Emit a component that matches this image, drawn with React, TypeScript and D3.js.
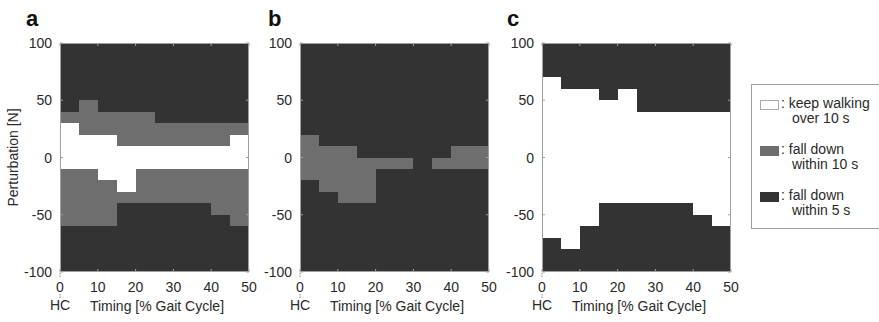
import React, { useEffect, useRef } from "react";
import * as d3 from "d3";

// each column = 5% gait cycle; edges go top -> bottom, states: w = keep walking, g = fall < 10 s, d = fall < 5 s
const timing = [0, 5, 10, 15, 20, 25, 30, 35, 40, 45];

const panelA = [
  { edges: [100, 40, 30, -10, -60, -100], states: "dgwgd" },
  { edges: [100, 50, 20, -10, -60, -100], states: "dgwgd" },
  { edges: [100, 40, 20, -20, -60, -100], states: "dgwgd" },
  { edges: [100, 40, 10, -30, -40, -100], states: "dgwgd" },
  { edges: [100, 40, 10, -10, -40, -100], states: "dgwgd" },
  { edges: [100, 30, 10, -10, -40, -100], states: "dgwgd" },
  { edges: [100, 30, 10, -10, -40, -100], states: "dgwgd" },
  { edges: [100, 30, 10, -10, -40, -100], states: "dgwgd" },
  { edges: [100, 30, 10, -10, -50, -100], states: "dgwgd" },
  { edges: [100, 30, 20, -10, -60, -100], states: "dgwgd" },
];

const panelB = [
  { edges: [100, 20, -20, -100], states: "dgd" },
  { edges: [100, 10, -30, -100], states: "dgd" },
  { edges: [100, 10, -40, -100], states: "dgd" },
  { edges: [100, 0, -40, -100], states: "dgd" },
  { edges: [100, 0, -10, -100], states: "dgd" },
  { edges: [100, 0, -10, -100], states: "dgd" },
  { edges: [100, -100], states: "d" },
  { edges: [100, 0, -10, -100], states: "dgd" },
  { edges: [100, 10, -10, -100], states: "dgd" },
  { edges: [100, 10, -10, -100], states: "dgd" },
];

const panelC = [
  { edges: [100, 70, -70, -100], states: "dwd" },
  { edges: [100, 60, -80, -100], states: "dwd" },
  { edges: [100, 60, -60, -100], states: "dwd" },
  { edges: [100, 50, -40, -100], states: "dwd" },
  { edges: [100, 60, -40, -100], states: "dwd" },
  { edges: [100, 40, -40, -100], states: "dwd" },
  { edges: [100, 40, -40, -100], states: "dwd" },
  { edges: [100, 40, -40, -100], states: "dwd" },
  { edges: [100, 40, -50, -100], states: "dwd" },
  { edges: [100, 40, -60, -100], states: "dwd" },
];

const xTicks = [0, 10, 20, 30, 40, 50];
const yTicks = [-100, -50, 0, 50, 100];
const legendItems = [
  { state: "w", lines: ["keep walking", "over 10 s"] },
  { state: "g", lines: ["fall down", "within 10 s"] },
  { state: "d", lines: ["fall down", "within 5 s"] },
];

const colors: Record<string, string> = { w: "#ffffff", g: "#6e6e6e", d: "#333333" };
const textColor = "#2a2a2a";
const font = "'Liberation Sans', Arial, sans-serif";

const App = () => {
  const ref = useRef<SVGSVGElement>(null);

  useEffect(() => {
    const svg = d3.select(ref.current);
    svg.selectAll("*").remove();

    const top = 43;
    const bottom = 272;
    const panels = [
      { label: "a", data: panelA, left: 60, labelX: 26, yTitle: true },
      { label: "b", data: panelB, left: 300, labelX: 268, yTitle: false },
      { label: "c", data: panelC, left: 542, labelX: 507, yTitle: false },
    ];
    const w = 189;

    const y = d3.scaleLinear().domain([-100, 100]).range([bottom, top]);

    panels.forEach((p) => {
      const x = d3.scaleLinear().domain([0, 50]).range([p.left, p.left + w]);
      const g = svg.append("g");
      const cells = g.append("g").attr("shape-rendering", "crispEdges");

      p.data.forEach((col, i) => {
        const x0 = timing[i];
        col.states.split("").forEach((s, j) => {
          const yTop = col.edges[j];
          const yBot = col.edges[j + 1];
          cells.append("rect")
            .attr("x", Math.round(x(x0)))
            .attr("width", Math.round(x(x0 + 5)) - Math.round(x(x0)))
            .attr("y", Math.round(y(yTop)))
            .attr("height", Math.round(y(yBot)) - Math.round(y(yTop)))
            .attr("fill", colors[s]);
        });
      });

      // frame
      g.append("rect")
        .attr("x", Math.round(x(0)) + 0.5)
        .attr("y", Math.round(y(100)) + 0.5)
        .attr("width", Math.round(x(50)) - Math.round(x(0)) - 1)
        .attr("height", Math.round(y(-100)) - Math.round(y(100)) - 1)
        .attr("fill", "none")
        .attr("stroke", "#a0a0a0")
        .attr("stroke-width", 1);

      // inner ticks
      yTicks.forEach((t) => {
        g.append("line").attr("x1", x(0)).attr("x2", x(0) + 3).attr("y1", y(t)).attr("y2", y(t)).attr("stroke", "#a0a0a0");
        g.append("line").attr("x1", x(50)).attr("x2", x(50) - 3).attr("y1", y(t)).attr("y2", y(t)).attr("stroke", "#a0a0a0");
        g.append("text")
          .attr("x", x(0) - 8)
          .attr("y", y(t) + 5)
          .attr("text-anchor", "end")
          .attr("font-size", 14)
          .attr("font-family", font)
          .attr("fill", textColor)
          .text(t);
      });

      xTicks.forEach((t) => {
        g.append("line").attr("x1", x(t)).attr("x2", x(t)).attr("y1", y(-100)).attr("y2", y(-100) - 3).attr("stroke", "#a0a0a0");
        g.append("line").attr("x1", x(t)).attr("x2", x(t)).attr("y1", y(100)).attr("y2", y(100) + 3).attr("stroke", "#a0a0a0");
        g.append("text")
          .attr("x", x(t))
          .attr("y", 292)
          .attr("text-anchor", "middle")
          .attr("font-size", 14)
          .attr("font-family", font)
          .attr("fill", textColor)
          .text(t);
      });

      // HC marker under 0
      g.append("line").attr("x1", x(0)).attr("x2", x(0)).attr("y1", bottom + 1).attr("y2", bottom + 6)
        .attr("stroke", "#888").attr("stroke-dasharray", "1.5,1");
      g.append("line").attr("x1", x(0)).attr("x2", x(0)).attr("y1", 294).attr("y2", 298)
        .attr("stroke", "#888").attr("stroke-dasharray", "1.5,1");
      g.append("text")
        .attr("x", x(0))
        .attr("y", 310)
        .attr("text-anchor", "middle")
        .attr("font-size", 14)
        .attr("font-family", font)
        .attr("fill", textColor)
        .text("HC");

      g.append("text")
        .attr("x", x(0) + 97)
        .attr("y", 311)
        .attr("text-anchor", "middle")
        .attr("font-size", 14)
        .attr("font-family", font)
        .attr("fill", textColor)
        .text("Timing [% Gait Cycle]");

      g.append("text")
        .attr("x", p.labelX)
        .attr("y", 26)
        .attr("font-size", 22)
        .attr("font-weight", "bold")
        .attr("font-family", font)
        .attr("fill", "#111")
        .text(p.label);

      if (p.yTitle) {
        g.append("text")
          .attr("transform", `translate(18, ${(top + bottom) / 2}) rotate(-90)`)
          .attr("text-anchor", "middle")
          .attr("font-size", 14)
          .attr("font-family", font)
          .attr("fill", textColor)
          .text("Perturbation [N]");
      }
    });

    // legend
    const lg = svg.append("g");
    lg.append("rect")
      .attr("x", 751.5)
      .attr("y", 84.5)
      .attr("width", 140)
      .attr("height", 144)
      .attr("fill", "#fff")
      .attr("stroke", "#a0a0a0");

    legendItems.forEach((item, i) => {
      const yy = 100 + i * 46;
      lg.append("rect")
        .attr("x", 760.5)
        .attr("y", yy + 0.5)
        .attr("width", 18)
        .attr("height", 9)
        .attr("fill", colors[item.state])
        .attr("stroke", item.state === "w" ? "#aaa" : colors[item.state]);
      lg.append("text")
        .attr("x", 781)
        .attr("y", yy + 8)
        .attr("font-size", 14)
        .attr("font-family", font)
        .attr("fill", textColor)
        .text(": " + item.lines[0]);
      lg.append("text")
        .attr("x", 792)
        .attr("y", yy + 23)
        .attr("font-size", 14)
        .attr("font-family", font)
        .attr("fill", textColor)
        .text(item.lines[1]);
    });
  }, []);

  return (
    <svg
      ref={ref}
      width={879}
      height={322}
      style={{ position: "absolute", left: 0, top: 0, background: "#fff" }}
    ></svg>
  );
};

export default App;
